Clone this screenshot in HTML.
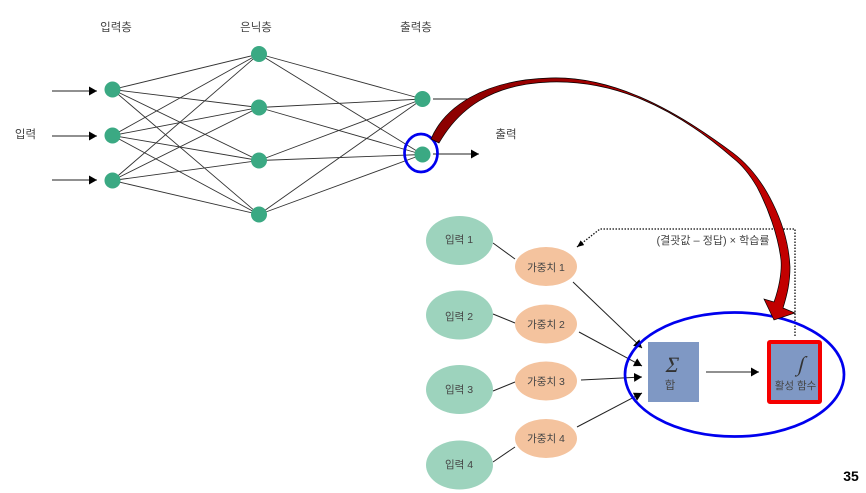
<!DOCTYPE html>
<html lang="ko">
<head>
<meta charset="utf-8">
<style>
html,body{margin:0;padding:0;background:#fff;}
svg{display:block;}
text{font-family:"Liberation Sans","Noto Sans CJK KR",sans-serif;fill:#444;text-anchor:middle;}
</style>
</head>
<body>
<svg width="866" height="493" viewBox="0 0 866 493" xmlns="http://www.w3.org/2000/svg">
<defs>
<marker id="a" markerWidth="10" markerHeight="10" refX="8" refY="4.500" orient="auto" markerUnits="userSpaceOnUse"><path d="M0,0L8,4.500L0,9Z" fill="#000"/></marker>
<marker id="b" markerWidth="8" markerHeight="8" refX="7" refY="3" orient="auto" markerUnits="userSpaceOnUse"><path d="M0,0L7,3L0,6Z" fill="#000"/></marker>
<linearGradient id="g" x1="431" y1="0" x2="795" y2="0" gradientUnits="userSpaceOnUse"><stop offset="0" stop-color="#8a0000"/><stop offset="1" stop-color="#c40000"/></linearGradient>
<filter id="t" x="-5%" y="-5%" width="110%" height="110%"><feGaussianBlur stdDeviation="0.25"/></filter>
</defs>
<g filter="url(#t)">
<g stroke="#333" stroke-width="0.900" fill="none">
<path d="M112.5,89.5L259,54M112.5,89.5L259,107.5M112.5,89.5L259,160.5M112.5,89.5L259,214.5"/>
<path d="M112.5,135.5L259,54M112.5,135.5L259,107.5M112.5,135.5L259,160.5M112.5,135.5L259,214.5"/>
<path d="M112.5,180.5L259,54M112.5,180.5L259,107.5M112.5,180.5L259,160.5M112.5,180.5L259,214.5"/>
<path d="M259,54L422.5,99M259,54L422.5,154.5M259,107.5L422.5,99M259,107.5L422.5,154.5"/>
<path d="M259,160.5L422.5,99M259,160.5L422.5,154.5M259,214.5L422.5,99M259,214.5L422.5,154.5"/>
</g>
<g stroke="#222" stroke-width="1.100" fill="none">
<path d="M52,91H97" marker-end="url(#a)"/>
<path d="M52,136H97" marker-end="url(#a)"/>
<path d="M52,180H97" marker-end="url(#a)"/>
<path d="M433,99H478"/>
<path d="M433,154H479" marker-end="url(#a)"/>
</g>
<g fill="#3aa983">
<circle cx="112.5" cy="89.5" r="8"/><circle cx="112.5" cy="135.5" r="8"/><circle cx="112.5" cy="180.5" r="8"/>
<circle cx="259" cy="54" r="8"/><circle cx="259" cy="107.5" r="8"/><circle cx="259" cy="160.5" r="8"/><circle cx="259" cy="214.5" r="8"/>
<circle cx="422.5" cy="99" r="8"/><circle cx="422.5" cy="154.5" r="8"/>
</g>
<g stroke="#222" stroke-width="1" fill="none">
<path d="M493,243L515,259M493,314L515,323M493,391L515,382M493,462L515,447"/>
<path d="M573,282L642,348" marker-end="url(#a)"/>
<path d="M579,332L642,366" marker-end="url(#a)"/>
<path d="M581,380L642,377" marker-end="url(#a)"/>
<path d="M577,427L642,393" marker-end="url(#a)"/>
<path d="M706,372H759" marker-end="url(#a)"/>
</g>
<g fill="#9dd3bd">
<ellipse cx="459.500" cy="240.500" rx="33.500" ry="24.500"/>
<ellipse cx="459.500" cy="315" rx="33.500" ry="24.500"/>
<ellipse cx="459.500" cy="389.500" rx="33.500" ry="24.500"/>
<ellipse cx="459.500" cy="465" rx="33.500" ry="24.500"/>
</g>
<g fill="#f4c39e">
<ellipse cx="546" cy="266.500" rx="31" ry="19.500"/>
<ellipse cx="546" cy="324" rx="31" ry="19.500"/>
<ellipse cx="546" cy="381" rx="31" ry="19.500"/>
<ellipse cx="546" cy="438.500" rx="31" ry="19.500"/>
</g>
<rect x="648" y="342" width="51" height="60" fill="#7f98c4"/>
<rect x="769" y="342" width="51" height="60" rx="1" fill="#7f98c4" stroke="#f50000" stroke-width="4"/>
<path d="M795,336V229H600L577,247" fill="none" stroke="#111" stroke-width="1.300" stroke-dasharray="1.500 1.500" marker-end="url(#b)"/>
<ellipse cx="734.500" cy="374.500" rx="109.500" ry="62" fill="none" stroke="#0000ee" stroke-width="2.700"/>
<ellipse cx="421" cy="153" rx="16.500" ry="19" fill="none" stroke="#0000ee" stroke-width="2.700"/>
<path d="M431,139C444,108 482,80 550,78C610,76 670,106 733,153C765,177 788,225 790,267C790,283 787,295 783,308L795,313L774,320L764,299L774,302C779,288 782,272 781,260C778,235 768,208 757,187C750,175 742,165 733,158C672,105 612,80 550,82C490,84 458,110 439,143Z" fill="url(#g)" stroke="#000" stroke-width="0.700"/>
</g>
<g filter="url(#t)">
<g font-size="11.500">
<text x="116" y="31">입력층</text>
<text x="256" y="31">은닉층</text>
<text x="416" y="31">출력층</text>
<text x="25.500" y="138">입력</text>
<text x="506" y="138">출력</text>
</g>
<g font-size="10.500">
<text x="459" y="243">입력 1</text>
<text x="459" y="320">입력 2</text>
<text x="459" y="393">입력 3</text>
<text x="459" y="468">입력 4</text>
<text x="546" y="271">가중치 1</text>
<text x="546" y="328">가중치 2</text>
<text x="546" y="385">가중치 3</text>
<text x="546" y="442">가중치 4</text>
</g>
<text x="713" y="244" font-size="11">(결괏값 – 정답) × 학습률</text>
<text x="670" y="389" font-size="11.500">합</text>
<text x="795.500" y="389" font-size="10.500">활성 함수</text>
<text transform="translate(671,372) skewX(-14)" style="font-family:'Liberation Serif',serif;fill:#333" font-size="22">Σ</text>
<text transform="translate(800,371) skewX(-14)" style="font-family:'Liberation Serif',serif;fill:#333" font-size="21">∫</text>
</g>
<text x="851" y="481" font-size="14" font-weight="bold" style="fill:#000">35</text>
</svg>
</body>
</html>
